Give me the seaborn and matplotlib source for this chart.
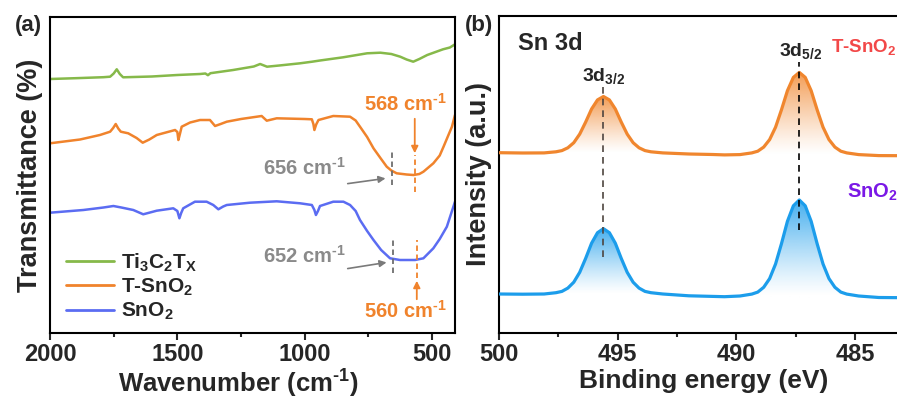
import numpy as np
import matplotlib
matplotlib.use("Agg")
import matplotlib.pyplot as plt
from matplotlib.colors import to_rgb
from matplotlib.ticker import MultipleLocator
import seaborn as sns
import pandas as pd

# ---------------- FTIR spectra (panel a) ----------------
wn_ti3c2tx = [2000, 1900, 1790, 1764, 1750, 1738, 1726, 1713, 1600, 1500, 1411, 1390,
              1380, 1370, 1281, 1200, 1175, 1160, 1148, 1100, 1018, 971, 940, 849, 755,
              703, 660, 625, 600, 574, 550, 519, 457, 430, 410]
t_ti3c2tx = [254.0, 254.8, 255.8, 256.3, 259.5, 263.7, 259.0, 255.7, 256.5, 258.0, 259.0, 259.5,
             257.8, 259.8, 263.0, 266.5, 269.0, 267.5, 266.3, 267.5, 269.7, 271.3, 272.5, 275.7, 279.7,
             280.3, 279.0, 276.3, 273.5, 271.3, 274.0, 278.0, 283.7, 285.5, 288.7]

wn_tsno2 = [2000, 1882, 1804, 1764, 1752, 1742, 1732, 1722, 1693, 1660, 1636, 1610, 1581,
            1509, 1500, 1496, 1490, 1483, 1450, 1411, 1372, 1352, 1330, 1306, 1250, 1188,
            1169, 1149, 1110, 1000, 972, 966, 962, 955, 946, 888, 822, 800, 783, 755, 730,
            700, 678, 660, 639, 600, 573, 550, 534, 495, 470, 455, 422, 410]
t_tsno2 = [189.7, 193.5, 198.0, 201.3, 205.0, 209.0, 204.5, 201.3, 199.7, 195.0, 190.3, 193.5, 198.0,
           203.0, 201.0, 193.0, 199.0, 206.3, 210.5, 213.0, 213.0, 207.0, 209.0, 211.3, 214.0, 216.3,
           217.0, 212.3, 214.7, 214.0, 213.7, 209.0, 203.0, 208.5, 213.0, 217.0, 216.3, 212.5, 206.3, 196.0, 184.7,
           174.0, 166.3, 162.5, 159.7, 158.5, 158.0, 159.0, 161.3, 169.7, 177.5, 186.3, 206.3, 218.0]

wn_sno2 = [2000, 1869, 1790, 1751, 1720, 1673, 1634, 1600, 1581, 1516, 1500, 1492, 1485,
           1477, 1431, 1385, 1359, 1339, 1320, 1306, 1215, 1110, 1018, 972, 962, 956, 948,
           940, 888, 848, 822, 800, 783, 755, 730, 700, 665, 626, 567, 534, 495, 470,
           442, 410]
t_sno2 = [120.3, 123.0, 125.5, 127.0, 125.5, 123.0, 118.7, 121.0, 122.3, 124.7, 122.0, 114.7, 120.0,
          124.7, 131.3, 131.3, 128.0, 123.7, 126.5, 128.0, 130.3, 131.7, 129.7, 128.0, 123.0, 118.0, 122.0,
          127.0, 131.3, 131.3, 128.0, 122.0, 113.0, 102.0, 93.0, 83.0, 74.7, 73.0, 73.0, 74.7, 84.7, 94.0,
          106.3, 131.3]

# ---------------- Sn 3d XPS spectra (panel b) ----------------
be_ev = [500.0, 499.0,
         498.1, 497.6, 497.35, 497.1, 496.85, 496.6, 496.35, 496.1, 495.85, 495.6,
         495.35, 495.1, 494.85, 494.6, 494.35, 494.1, 493.85, 493.6, 493.1,
         492.0, 491.0, 490.5,
         489.85, 489.35, 489.1, 488.85, 488.6, 488.35, 488.1, 487.85, 487.6, 487.35,
         487.1, 486.85, 486.6, 486.35, 486.1, 485.85, 485.6, 485.35, 484.85,
         484.0, 483.0]
i_tsno2 = [180.3, 180.0,
           180.1, 181.2, 182.4, 185.2, 190.3, 198.9, 210.9, 224.0, 233.1, 236.5,
           233.1, 224.0, 210.9, 198.9, 190.3, 185.2, 182.4, 181.2, 180.1,
           179.0, 178.5, 178.1,
           178.4, 180.1, 181.8, 185.9, 193.4, 205.8, 223.3, 242.3, 255.6, 260.6,
           255.6, 242.3, 223.3, 205.8, 193.4, 185.9, 181.8, 180.1, 178.4,
           177.4, 177.3]
i_sno2 = [39.0, 38.8,
          39.0, 40.3, 41.6, 44.9, 50.8, 60.7, 74.6, 89.8, 100.3, 104.3,
          100.3, 89.8, 74.6, 60.7, 50.8, 44.9, 41.6, 40.3, 39.0,
          37.2, 36.6, 36.3,
          37.0, 38.9, 40.9, 45.7, 54.4, 69.0, 89.4, 111.7, 127.2, 133.0,
          127.2, 111.7, 89.4, 69.0, 54.4, 45.7, 40.9, 38.9, 37.0,
          35.5, 35.3]
peak_centers = [495.6, 487.35]

ftir_labels = ["Ti$_3$C$_2$T$_X$", "T-SnO$_2$", "SnO$_2$"]
ftir_colors = ["#86B94A", "#F0832C", "#5B6CF2"]
xps_colors = ["#F0862E", "#1C9DEB"]

sns.set_theme(style="ticks")
plt.rcParams["font.family"] = ["Liberation Sans", "DejaVu Sans"]
plt.rcParams["font.weight"] = "bold"
plt.rcParams["mathtext.fontset"] = "custom"
plt.rcParams["mathtext.rm"] = "Liberation Sans:bold"
plt.rcParams["mathtext.bf"] = "Liberation Sans:bold"
plt.rcParams["mathtext.it"] = "Liberation Sans:bold"
plt.rcParams["mathtext.default"] = "rm"
plt.rcParams["axes.linewidth"] = 1.5

HY = "\u2010"  # short hyphen for the cm^-1 superscript
CM = "cm$^{" + HY + "1}$"

fig = plt.figure(figsize=(8.97, 3.99), dpi=100)
ax1 = fig.add_axes([50 / 897, 66 / 399, 405 / 897, 316 / 399])
ax2 = fig.add_axes([499 / 897, 66 / 399, 400 / 897, 317 / 399])

# ---- panel a ----
ftir = [(wn_ti3c2tx, t_ti3c2tx), (wn_tsno2, t_tsno2), (wn_sno2, t_sno2)]
for (wn, t), lab, col in zip(ftir, ftir_labels, ftir_colors):
    df = pd.DataFrame({"wn": wn, "t": t})
    sns.lineplot(data=df, x="wn", y="t", ax=ax1, color=col, lw=1.8, label=lab,
                 sort=False, estimator=None)
ax1.set_xlim(2000, 410)
ax1.set_ylim(0, 316)
ax1.xaxis.set_major_locator(MultipleLocator(500))
ax1.xaxis.set_minor_locator(MultipleLocator(250))
ax1.tick_params(axis="x", which="major", direction="out", length=5, width=1.5,
                labelsize=17, pad=2)
ax1.tick_params(axis="x", which="minor", direction="out", length=3, width=1.5)
ax1.tick_params(axis="y", left=False, labelleft=False)
ax1.set_xlabel("Wavenumber (" + CM + ")", fontsize=18.5, fontweight="bold")
ax1.xaxis.set_label_coords(0.465, -0.111)
ax1.set_ylabel("Transmittance (%)", fontsize=19.5, fontweight="bold", labelpad=5)
for s in ax1.spines.values():
    s.set_linewidth(1.5)
    s.set_color("black")

leg = ax1.legend(loc="upper left", bbox_to_anchor=(0.02, 0.285), frameon=False,
                 fontsize=15, handlelength=2.3, handletextpad=0.3, labelspacing=0.15,
                 borderaxespad=0)
for h in leg.get_lines():
    h.set_linewidth(2)

orange_txt = "#F0832C"
gray_txt = "#8A8A8A"
ann_fs = 14.5
# T-SnO2 band positions
ax1.text(606, 229, "568 " + CM, color=orange_txt, fontsize=ann_fs, ha="center", va="center")
ax1.annotate("", xy=(568, 177), xytext=(568, 217),
             arrowprops=dict(arrowstyle="-|>", color=orange_txt, lw=1.3, mutation_scale=10))
ax1.plot([568, 568], [141, 178], ls=(0, (3, 2)), color=orange_txt, lw=1.3)
ax1.text(1000, 165, "656 " + CM, color=gray_txt, fontsize=ann_fs, ha="center", va="center")
ax1.annotate("", xy=(672, 155), xytext=(842, 149),
             arrowprops=dict(arrowstyle="-|>", color="#7A7A7A", lw=1.2, mutation_scale=10))
ax1.plot([656, 656], [148, 181], ls=(0, (3, 2)), color="#6E6E6E", lw=1.3)
# SnO2 band positions
ax1.text(1000, 77, "652 " + CM, color=gray_txt, fontsize=ann_fs, ha="center", va="center")
ax1.annotate("", xy=(668, 71), xytext=(842, 64),
             arrowprops=dict(arrowstyle="-|>", color="#7A7A7A", lw=1.2, mutation_scale=10))
ax1.plot([652, 652], [60, 93], ls=(0, (3, 2)), color="#6E6E6E", lw=1.3)
ax1.text(606, 22, "560 " + CM, color=orange_txt, fontsize=ann_fs, ha="center", va="center")
ax1.annotate("", xy=(560, 55), xytext=(560, 31),
             arrowprops=dict(arrowstyle="-|>", color=orange_txt, lw=1.3, mutation_scale=10))
ax1.plot([560, 560], [55, 93], ls=(0, (3, 2)), color=orange_txt, lw=1.3)

fig.text(28 / 897, 1 - 26 / 399, "(a)", fontsize=16, fontweight="bold", ha="center", va="center")
fig.text(479 / 897, 1 - 26 / 399, "(b)", fontsize=16, fontweight="bold", ha="center", va="center")

# ---- panel b ----
be = np.array(be_ev)


def gradient_peaks(ax, x, y, color):
    rgb = to_rgb(color)
    for c in peak_centers:
        m = np.abs(x - c) <= 2.6
        xs, ys = x[m], y[m]
        base = ys.min()
        top = ys.max()
        poly = ax.fill_between(xs, ys, base, color="none", lw=0)
        n = 256
        grad = np.zeros((n, 1, 4))
        grad[:, 0, :3] = rgb
        grad[:, 0, 3] = np.linspace(0.0, 0.85, n) ** 1.2
        im = ax.imshow(grad, origin="lower", aspect="auto",
                       extent=(xs.max(), xs.min(), base, top), zorder=1,
                       interpolation="bilinear")
        im.set_clip_path(poly.get_paths()[0], transform=ax.transData)


for inten, col in zip([i_tsno2, i_sno2], xps_colors):
    yy = np.array(inten)
    gradient_peaks(ax2, be, yy, col)
    df = pd.DataFrame({"be": be_ev, "i": inten})
    sns.lineplot(data=df, x="be", y="i", ax=ax2, color=col, lw=2.3, sort=False,
                 estimator=None, zorder=3)

ax2.plot([peak_centers[0]] * 2, [76, 246], ls=(0, (4, 3)), color="#4E4540", lw=1.2, zorder=4)
ax2.plot([peak_centers[1]] * 2, [103, 271], ls=(0, (4, 3)), color="black", lw=1.2, zorder=4)
ax2.text(495.6, 257, "3d$_{3/2}$", fontsize=14, ha="center", va="center")
ax2.text(487.3, 282, "3d$_{5/2}$", fontsize=14, ha="center", va="center")
ax2.text(499.2, 290, "Sn 3d", fontsize=17, ha="left", va="center")
ax2.text(486.0, 286, "T-SnO$_2$", fontsize=13.5, color="#F24848", ha="left", va="center")
ax2.text(485.35, 141, "SnO$_2$", fontsize=14.5, color="#7A18E6", ha="left", va="center")

ax2.set_xlim(500, 483.15)
ax2.set_ylim(0, 317)
ax2.xaxis.set_major_locator(MultipleLocator(5))
ax2.xaxis.set_minor_locator(MultipleLocator(2.5))
ax2.tick_params(axis="x", which="major", direction="out", length=5, width=1.5,
                labelsize=17, pad=2)
ax2.tick_params(axis="x", which="minor", direction="out", length=3, width=1.5)
ax2.tick_params(axis="y", left=False, labelleft=False)
ax2.set_xlabel("Binding energy (eV)", fontsize=19, fontweight="bold")
ax2.xaxis.set_label_coords(0.512, -0.115)
ax2.set_ylabel("Intensity (a.u.)", fontsize=19.5, fontweight="bold", labelpad=5)
for s in ax2.spines.values():
    s.set_linewidth(1.5)
    s.set_color("black")

fig.savefig("out.png", dpi=100)
